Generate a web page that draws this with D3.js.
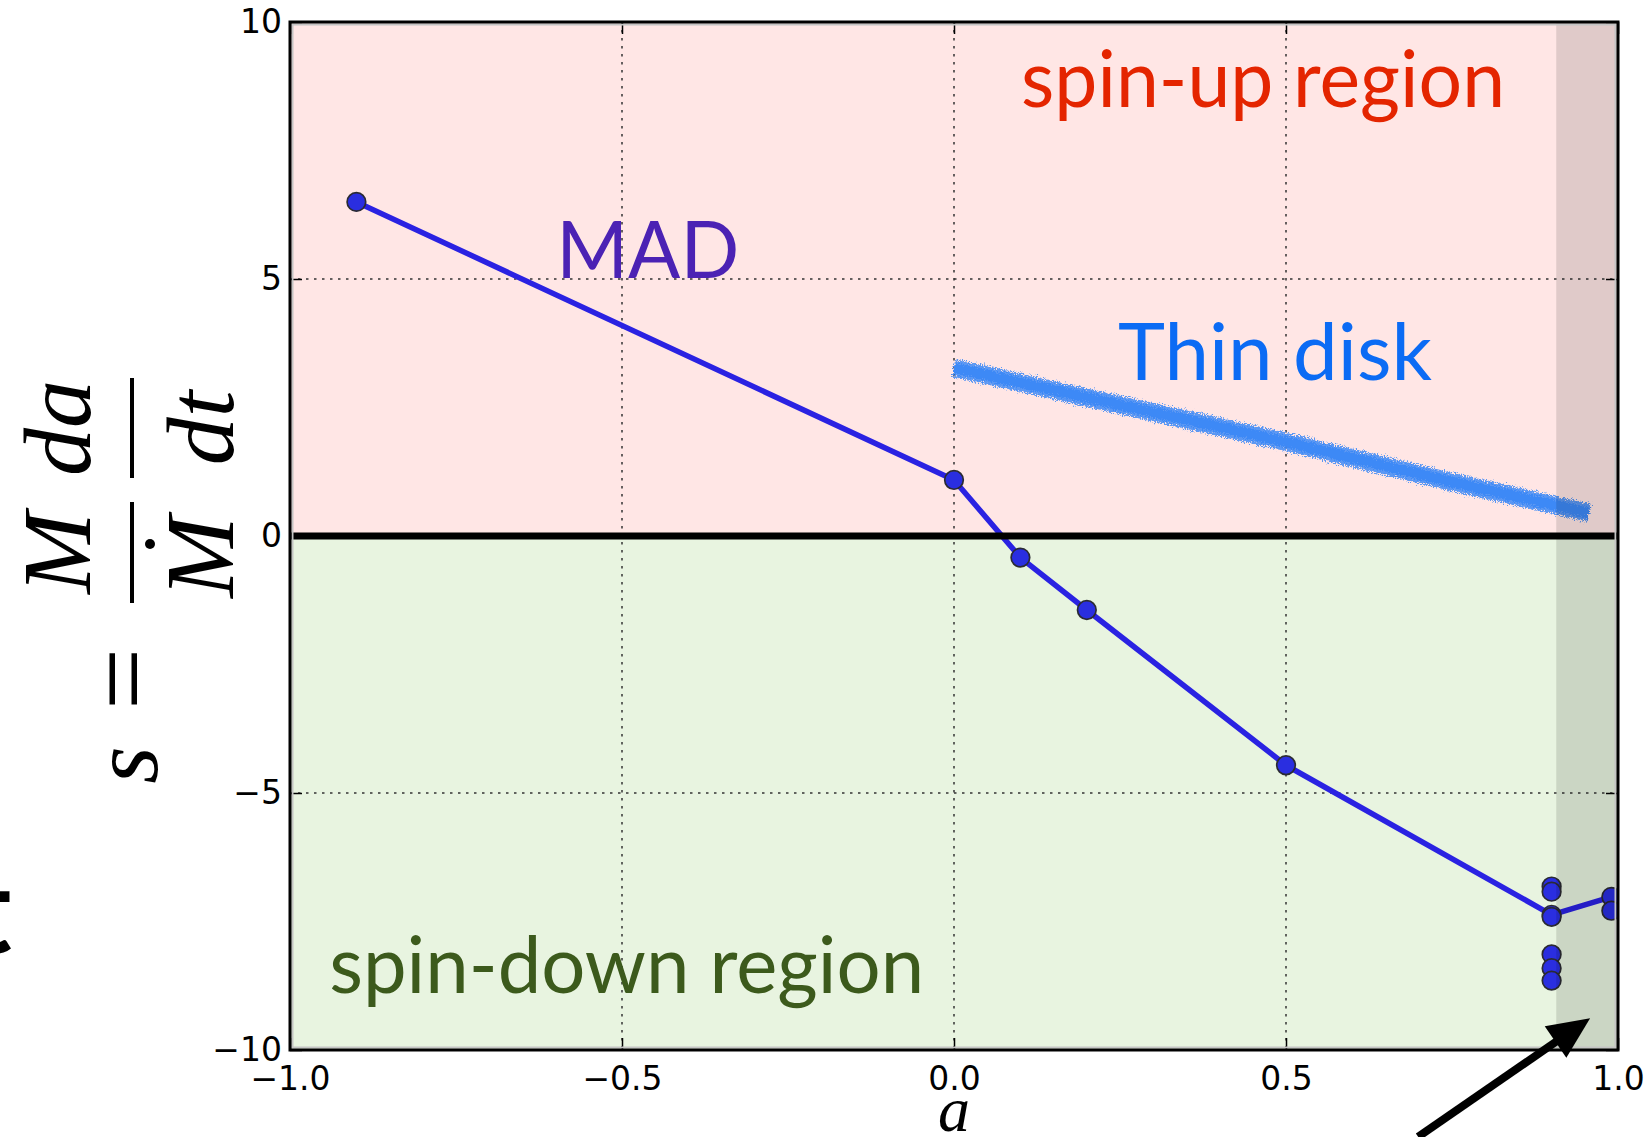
<!DOCTYPE html>
<html>
<head>
<meta charset="utf-8">
<script src="https://cdn.jsdelivr.net/npm/d3@7"></script>
<style>
  html, body { margin: 0; padding: 0; background: #ffffff; }
  svg { display: block; }
</style>
</head>
<body>
<script>
// ---------------- data ----------------
const aTicks = [-1, -0.5, 0, 0.5, 1];
const aTickLabels = ["\u22121.0", "\u22120.5", "0.0", "0.5", "1.0"];
const sTicks = [-10, -5, 0, 5, 10];
const sTickLabels = ["\u221210", "\u22125", "0", "5", "10"];

// MAD simulations (connected line)
const madA = [-0.9, 0.0, 0.1, 0.2, 0.5, 0.9, 0.99];
const madS = [6.50, 1.09, -0.42, -1.44, -4.46, -7.37, -7.02];

// additional MAD runs (markers only)
const extraA = [0.9, 0.9, 0.9, 0.9, 0.9, 0.9, 0.99];
const extraS = [-6.82, -6.92, -7.41, -8.14, -8.41, -8.65, -7.29];

// Thin disk spin-up curve
const thinA = [0.0, 0.25, 0.5, 0.75, 0.956];
const thinS = [3.27, 2.55, 1.83, 1.05, 0.45];

// shaded (high-spin) band and arrow annotation, in data units
const shadeFrom = 0.907;
const arrowFrom = { a: 0.699, s: -11.69 };
const arrowTo = { a: 0.958, s: -9.38 };

// ---------------- layout ----------------
const W = 1644, H = 1137;
const x = d3.scaleLinear().domain([-1, 1]).range([290, 1618]);
const y = d3.scaleLinear().domain([-10, 10]).range([1050, 22]);

const svg = d3.select("body").append("svg").attr("width", W).attr("height", H);
const defs = svg.append("defs");
defs.append("clipPath").attr("id", "plotclip").append("rect")
  .attr("x", x(-1)).attr("y", y(10)).attr("width", x(1) - x(-1)).attr("height", y(-10) - y(10));
const filt = defs.append("filter").attr("id", "rough")
  .attr("x", "-5%").attr("y", "-30%").attr("width", "110%").attr("height", "160%");
filt.append("feTurbulence").attr("type", "fractalNoise").attr("baseFrequency", "0.9")
  .attr("numOctaves", 2).attr("seed", 7).attr("result", "noise");
filt.append("feDisplacementMap").attr("in", "SourceGraphic").attr("in2", "noise")
  .attr("scale", 9).attr("xChannelSelector", "R").attr("yChannelSelector", "G");

const plot = svg.append("g").attr("clip-path", "url(#plotclip)");

// backgrounds
plot.append("rect").attr("x", x(-1)).attr("y", y(10))
  .attr("width", x(1) - x(-1)).attr("height", y(0) - y(10)).attr("fill", "#ffe6e5");
plot.append("rect").attr("x", x(-1)).attr("y", y(0))
  .attr("width", x(1) - x(-1)).attr("height", y(-10) - y(0)).attr("fill", "#e8f4e0");

// grid
const grid = plot.append("g").attr("stroke", "#333").attr("stroke-width", 1.5)
  .attr("stroke-dasharray", "2.5,5.5");
grid.selectAll("line.v").data(aTicks).join("line").attr("class", "v")
  .attr("x1", d => x(d)).attr("x2", d => x(d)).attr("y1", y(10)).attr("y2", y(-10));
grid.selectAll("line.h").data(sTicks).join("line").attr("class", "h")
  .attr("y1", d => y(d)).attr("y2", d => y(d)).attr("x1", x(-1)).attr("x2", x(1));

// thin disk band
const thinData = thinA.map((a, i) => [a, thinS[i]]);
const thinLine = d3.line().x(d => x(d[0])).y(d => y(d[1])).curve(d3.curveMonotoneX);
plot.append("path").datum(thinData).attr("d", thinLine)
  .attr("fill", "none").attr("stroke", "#3e89f6").attr("stroke-width", 18)
  .attr("stroke-opacity", 0.85).attr("filter", "url(#rough)");
plot.append("path").datum(thinData).attr("d", thinLine)
  .attr("fill", "none").attr("stroke", "#3e89f6").attr("stroke-width", 11)
  .attr("filter", "url(#rough)");

// MAD line
const madData = madA.map((a, i) => [a, madS[i]]);
plot.append("path").datum(madData)
  .attr("d", d3.line().x(d => x(d[0])).y(d => y(d[1])))
  .attr("fill", "none").attr("stroke", "#2a22e2").attr("stroke-width", 5.5)
  .attr("stroke-linejoin", "round");

const allPts = madData.concat(extraA.map((a, i) => [a, extraS[i]]));
plot.selectAll("circle.pt").data(allPts).join("circle").attr("class", "pt")
  .attr("cx", d => x(d[0])).attr("cy", d => y(d[1])).attr("r", 9.3)
  .attr("fill", "#2a2ee0").attr("stroke", "#2b2b33").attr("stroke-width", 1.7);

// shaded high-spin region
plot.append("rect").attr("x", x(shadeFrom)).attr("y", y(10))
  .attr("width", x(1) - x(shadeFrom)).attr("height", y(-10) - y(10))
  .attr("fill", "#000").attr("fill-opacity", 0.12);

// zero line
plot.append("line").attr("x1", x(-1)).attr("x2", x(1)).attr("y1", y(0)).attr("y2", y(0))
  .attr("stroke", "#000").attr("stroke-width", 7);

// axes (ticks inside, all four sides)
function styleAxis(g) {
  g.select(".domain").remove();
  g.selectAll(".tick line").attr("stroke", "#000").attr("stroke-width", 1.5);
  g.selectAll(".tick text").attr("fill", "#000")
    .style("font-family", "'DejaVu Sans', sans-serif").style("font-size", "33px");
}
svg.append("g").attr("transform", `translate(0,${y(-10)})`)
  .call(d3.axisBottom(x).tickValues(aTicks).tickFormat((d, i) => aTickLabels[i])
    .tickSizeInner(-12).tickSizeOuter(0).tickPadding(17)).call(styleAxis);
svg.append("g").attr("transform", `translate(0,${y(10)})`)
  .call(d3.axisTop(x).tickValues(aTicks).tickFormat("")
    .tickSizeInner(-12).tickSizeOuter(0)).call(styleAxis);
svg.append("g").attr("transform", `translate(${x(-1)},0)`)
  .call(d3.axisLeft(y).tickValues(sTicks).tickFormat((d, i) => sTickLabels[i])
    .tickSizeInner(-12).tickSizeOuter(0).tickPadding(8)).call(styleAxis);
svg.append("g").attr("transform", `translate(${x(1)},0)`)
  .call(d3.axisRight(y).tickValues(sTicks).tickFormat("")
    .tickSizeInner(-12).tickSizeOuter(0)).call(styleAxis);

// frame
svg.append("rect").attr("x", x(-1) + 2.5).attr("y", y(10) + 2.5)
  .attr("width", x(1) - x(-1) - 5).attr("height", y(-10) - y(10) - 5)
  .attr("fill", "none").attr("stroke", "#c4c4c4").attr("stroke-width", 2);
svg.append("rect").attr("x", x(-1)).attr("y", y(10))
  .attr("width", x(1) - x(-1)).attr("height", y(-10) - y(10))
  .attr("fill", "none").attr("stroke", "#000").attr("stroke-width", 3);

// annotations
const annFont = "Lato, 'Open Sans', sans-serif";
function ann(txt, a, s, color, len) {
  svg.append("text").attr("x", x(a)).attr("y", y(s))
    .attr("textLength", len).attr("lengthAdjust", "spacingAndGlyphs")
    .style("font-family", annFont).style("font-size", "80px").attr("fill", color).text(txt);
}
ann("spin-up region", 0.101, 8.35, "#e42500", 484);
ann("spin-down region", -0.941, -8.89, "#3c5a1c", 595);
ann("MAD", -0.599, 5.02, "#4b22b4", 183);
ann("Thin disk", 0.247, 3.04, "#0b6bf4", 314);

// arrow
const ax1 = x(arrowFrom.a), ay1 = y(arrowFrom.s), ax2 = x(arrowTo.a), ay2 = y(arrowTo.s);
const ang = Math.atan2(ay2 - ay1, ax2 - ax1);
const hl = 42, hw = 19;
const bx = ax2 - hl * Math.cos(ang), by = ay2 - hl * Math.sin(ang);
svg.append("line").attr("x1", ax1).attr("y1", ay1).attr("x2", bx + 4 * Math.cos(ang)).attr("y2", by + 4 * Math.sin(ang))
  .attr("stroke", "#000").attr("stroke-width", 8);
svg.append("path").attr("d", d3.line()([
  [ax2, ay2],
  [bx + hw * Math.sin(ang), by - hw * Math.cos(ang)],
  [bx - hw * Math.sin(ang), by + hw * Math.cos(ang)]
]) + "Z").attr("fill", "#000");

// cut-off glyph at the left edge
svg.append("text").attr("x", -33).attr("y", 953)
  .style("font-family", annFont).style("font-weight", "bold").style("font-size", "120px")
  .attr("fill", "#000").text("t");

// x label
svg.append("text").attr("x", x(0)).attr("y", 1131).attr("text-anchor", "middle")
  .style("font-family", "'Liberation Serif', serif").style("font-style", "italic")
  .style("font-size", "64px").text("a");

// y label: s = (M / Ṁ) (da / dt)
const yl = svg.append("g").attr("transform", "translate(131,580) rotate(-90)")
  .style("font-family", "'Liberation Serif', serif").style("font-size", "96px");
function yt(t, X, Y, italic, fs) {
  const el = yl.append("text").attr("x", X).attr("y", Y).attr("text-anchor", "middle")
    .style("font-style", italic ? "italic" : "normal").text(t);
  if (fs) el.style("font-size", fs + "px");
}
yt("s", -185, 26, true);
yt("=", -99, 29, false, 110);
yt("M", 27, -41, true, 98);
yt("M", 23, 102, true, 98);
yl.append("circle").attr("cx", 36).attr("cy", 19).attr("r", 5).attr("fill", "#000");
yl.append("line").attr("x1", -23).attr("x2", 78).attr("y1", 1).attr("y2", 1)
  .attr("stroke", "#000").attr("stroke-width", 4);
yt("da", 152, -41, true);
yt("dt", 152, 102, true);
yl.append("line").attr("x1", 102).attr("x2", 202).attr("y1", 1).attr("y2", 1)
  .attr("stroke", "#000").attr("stroke-width", 4);
</script>
</body>
</html>
